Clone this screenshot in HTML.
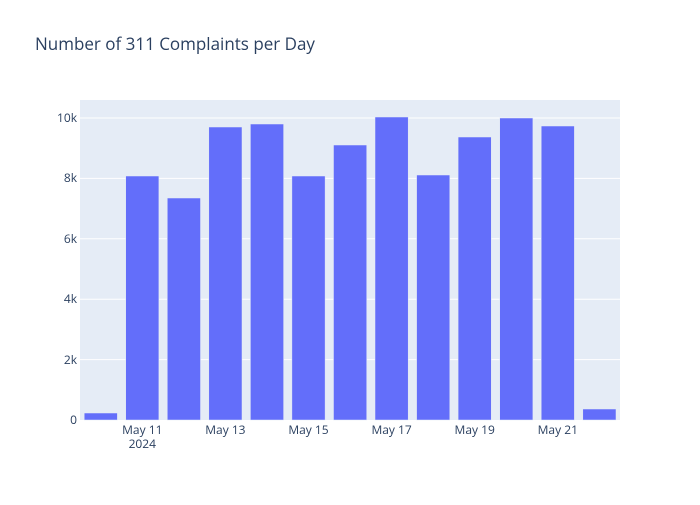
<!DOCTYPE html>
<html><head><style>
body{margin:0;background:#fff;}
svg text{font-family:"Open Sans","Liberation Sans",sans-serif;fill:#2a3f5f;}
</style></head><body>
<svg width="700" height="500" xmlns="http://www.w3.org/2000/svg">
<rect x="0" y="0" width="700" height="500" fill="#fff"/>
<rect x="80" y="100" width="540" height="320" fill="#e5ecf6"/>
<g stroke="#fff" stroke-width="1">
<line x1="80" x2="620" y1="359.6" y2="359.6"/>
<line x1="80" x2="620" y1="299.2" y2="299.2"/>
<line x1="80" x2="620" y1="238.8" y2="238.8"/>
<line x1="80" x2="620" y1="178.4" y2="178.4"/>
<line x1="80" x2="620" y1="118" y2="118"/>
</g>
<g fill="#636efa" stroke="#e5ecf6" stroke-width="0.5">
<rect x="84.2" y="413" width="33.2" height="7"/>
<rect x="125.7" y="176" width="33.2" height="244"/>
<rect x="167.3" y="198" width="33.2" height="222"/>
<rect x="208.8" y="127" width="33.2" height="293"/>
<rect x="250.4" y="124" width="33.2" height="296"/>
<rect x="291.9" y="176" width="33.2" height="244"/>
<rect x="333.5" y="145" width="33.2" height="275"/>
<rect x="375" y="117" width="33.2" height="303"/>
<rect x="416.6" y="175" width="33.2" height="245"/>
<rect x="458.1" y="137" width="33.2" height="283"/>
<rect x="499.7" y="118" width="33.2" height="302"/>
<rect x="541.2" y="126" width="33.2" height="294"/>
<rect x="582.8" y="409" width="33.2" height="11"/>
</g>
<g font-size="12" text-anchor="end">
<text x="77" y="424">0</text>
<text x="77" y="364">2k</text>
<text x="77" y="303">4k</text>
<text x="77" y="243">6k</text>
<text x="77" y="182">8k</text>
<text x="77" y="122">10k</text>
</g>
<g font-size="12" text-anchor="middle">
<text x="142.3" y="434">May 11</text>
<text x="142.3" y="448">2024</text>
<text x="225.4" y="434">May 13</text>
<text x="308.5" y="434">May 15</text>
<text x="391.6" y="434">May 17</text>
<text x="474.7" y="434">May 19</text>
<text x="557.8" y="434">May 21</text>
</g>
<text x="35" y="50" font-size="17">Number of 311 Complaints per Day</text>
</svg>
</body></html>
